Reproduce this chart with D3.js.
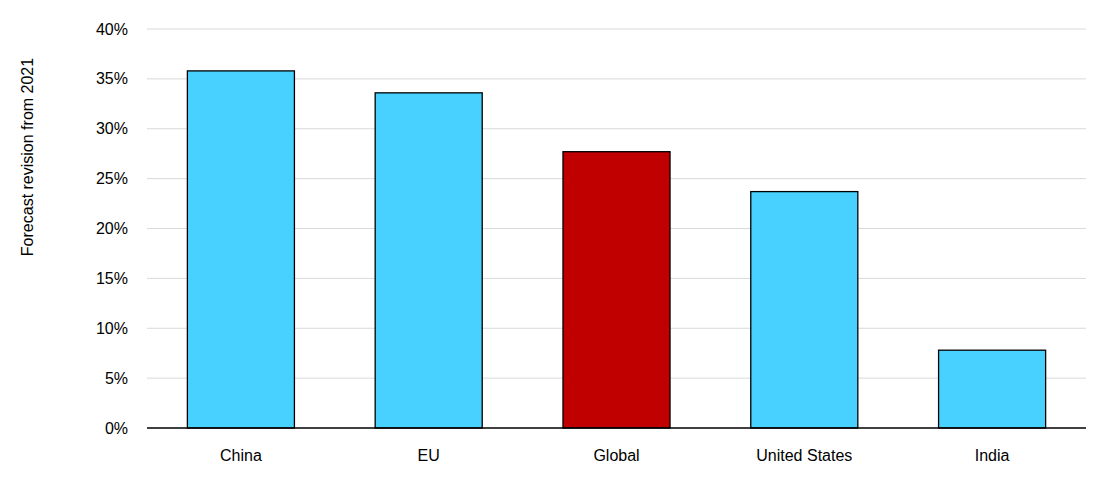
<!DOCTYPE html>
<html><head><meta charset="utf-8">
<script src="https://cdn.jsdelivr.net/npm/d3@7"></script>
<style>body{margin:0;background:#fff}text{font-family:"Liberation Sans",Arial,sans-serif}</style>
</head><body><svg id="c" width="1102" height="494"></svg>
<script>
const categories=["China","EU","Global","United States","India"];
const values=[0.358,0.336,0.277,0.237,0.078];
const colors=["#48d1ff","#48d1ff","#c00000","#48d1ff","#48d1ff"];
const yTicks=[0,0.05,0.1,0.15,0.2,0.25,0.3,0.35,0.4];
const svg=d3.select("#c");
const x=d3.scaleBand().domain(categories).range([147,1086]).paddingInner(0.43).paddingOuter(0.215);
const y=d3.scaleLinear().domain([0,0.4]).range([428,29]);
svg.append("g").selectAll("line").data(yTicks.slice(1)).join("line")
 .attr("x1",147).attr("x2",1086).attr("y1",d=>y(d)).attr("y2",d=>y(d)).attr("stroke","#d9d9d9");
svg.append("g").selectAll("text").data(yTicks).join("text")
 .attr("x",128).attr("y",d=>y(d)).attr("dy","0.35em").attr("text-anchor","end")
 .attr("font-size",16).attr("fill","#000").text(d=>d3.format(".0%")(d));
svg.append("g").selectAll("rect").data(values).join("rect")
 .attr("x",(d,i)=>x(categories[i])).attr("width",x.bandwidth())
 .attr("y",d=>y(d)).attr("height",d=>y(0)-y(d))
 .attr("fill",(d,i)=>colors[i]).attr("stroke","#000").attr("stroke-width",1.3);
svg.append("line").attr("x1",147).attr("x2",1086).attr("y1",428).attr("y2",428).attr("stroke","#000").attr("stroke-width",1.3);
svg.append("g").selectAll("text").data(categories).join("text")
 .attr("x",d=>x(d)+x.bandwidth()/2).attr("y",461).attr("text-anchor","middle")
 .attr("font-size",16).text(d=>d);
svg.append("text").attr("transform","translate(33,157) rotate(-90)").attr("text-anchor","middle")
 .attr("font-size",16).text("Forecast revision from 2021");
</script></body></html>
